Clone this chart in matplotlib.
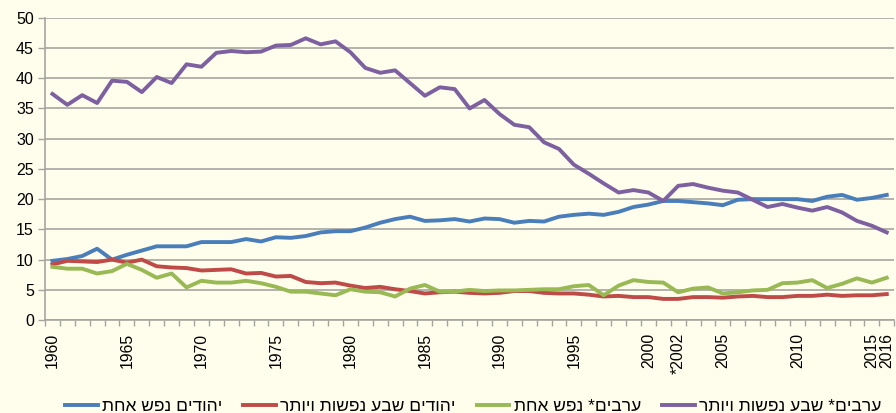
import matplotlib
matplotlib.use("Agg")
import matplotlib.pyplot as plt
from matplotlib.ticker import FixedLocator, NullFormatter

years = list(range(1960, 2017))

jews_single = [
    9.8, 10.1, 10.6, 11.8, 10.0, 10.8, 11.5, 12.2, 12.2, 12.2,
    12.9, 12.9, 12.9, 13.4, 13.0, 13.7, 13.6, 13.9, 14.5, 14.7,
    14.7, 15.3, 16.1, 16.7, 17.1, 16.4, 16.5, 16.7, 16.3, 16.8,
    16.7, 16.1, 16.4, 16.3, 17.1, 17.4, 17.6, 17.4, 17.9, 18.7,
    19.1, 19.7, 19.7, 19.5, 19.3, 19.0, 19.9, 20.0, 20.0, 20.0,
    20.0, 19.7, 20.4, 20.7, 19.9, 20.2, 20.7,
]
jews_seven = [
    9.2, 9.8, 9.7, 9.6, 10.0, 9.5, 10.0, 8.9, 8.7, 8.6,
    8.2, 8.3, 8.4, 7.7, 7.8, 7.2, 7.3, 6.3, 6.1, 6.2,
    5.7, 5.3, 5.5, 5.1, 4.8, 4.4, 4.6, 4.7, 4.5, 4.4,
    4.5, 4.8, 4.8, 4.5, 4.4, 4.4, 4.2, 3.9, 4.0, 3.8,
    3.8, 3.5, 3.5, 3.8, 3.8, 3.7, 3.9, 4.0, 3.8, 3.8,
    4.0, 4.0, 4.2, 4.0, 4.1, 4.1, 4.3,
]
arabs_single = [
    8.8, 8.5, 8.5, 7.7, 8.1, 9.3, 8.3, 7.0, 7.7, 5.4,
    6.5, 6.2, 6.2, 6.5, 6.1, 5.5, 4.7, 4.7, 4.4, 4.1,
    5.1, 4.7, 4.6, 3.9, 5.2, 5.8, 4.7, 4.7, 5.0, 4.8,
    4.9, 4.9, 5.0, 5.1, 5.1, 5.6, 5.8, 4.1, 5.7, 6.6,
    6.3, 6.2, 4.6, 5.2, 5.4, 4.4, 4.6, 4.9, 5.0, 6.1,
    6.2, 6.6, 5.3, 6.0, 6.9, 6.2, 7.0,
]
arabs_seven = [
    37.4, 35.6, 37.2, 35.9, 39.6, 39.4, 37.7, 40.2, 39.2, 42.3,
    41.9, 44.2, 44.5, 44.3, 44.4, 45.4, 45.5, 46.6, 45.6, 46.1,
    44.3, 41.7, 40.9, 41.3, 39.2, 37.1, 38.5, 38.2, 35.0, 36.4,
    34.1, 32.3, 31.9, 29.4, 28.3, 25.7, 24.2, 22.6, 21.1, 21.5,
    21.1, 19.7, 22.2, 22.5, 21.9, 21.4, 21.1, 19.9, 18.7, 19.2,
    18.6, 18.1, 18.7, 17.8, 16.4, 15.6, 14.5,
]

label_years = [1960, 1965, 1970, 1975, 1980, 1985, 1990, 1995,
               2000, 2002, 2005, 2010, 2015, 2016]
label_texts = ["1960", "1965", "1970", "1975", "1980", "1985", "1990", "1995",
               "2000", "*2002", "2005", "2010", "2015", "2016"]

series_names = [
    "יהודים נפש אחת",
    "יהודים שבע נפשות ויותר",
    "ערבים* נפש אחת",
    "ערבים* שבע נפשות ויותר",
]
colors = ["#4A7EBB", "#BE4B48", "#98B954", "#7D60A0"]

bg = "#FFFDEB"
grid_c = "#A5A5A0"

fig = plt.figure(figsize=(8.96, 4.13), dpi=100, facecolor=bg)
ax = fig.add_axes([0.0502, 0.225, 0.9478, 0.732], facecolor=bg)

idx = list(range(len(years)))
for vals, name, c in zip([jews_single, jews_seven, arabs_single, arabs_seven],
                         series_names, colors):
    # matplotlib has no bidi support, so feed hebrew in visual order
    ax.plot(idx, vals, color=c, lw=2.8, solid_joinstyle="round",
            label=name[::-1])

ax.set_xlim(-0.5, len(years) - 0.5)
ax.set_ylim(0, 50)
ax.set_yticks(range(0, 51, 5))
ax.yaxis.grid(True, color=grid_c, lw=1.2)
ax.set_axisbelow(True)

ax.set_xticks([years.index(y) for y in label_years])
ax.set_xticklabels(label_texts, rotation=90, family="Liberation Sans",
                   fontsize=11.3)
ax.xaxis.set_minor_locator(FixedLocator([i - 0.5 for i in range(len(years) + 1)]))
ax.xaxis.set_minor_formatter(NullFormatter())
ax.tick_params(axis="x", which="major", length=0, pad=9)
ax.tick_params(axis="x", which="minor", length=4, color=grid_c, width=1)
ax.tick_params(axis="y", length=5, color=grid_c, width=1, labelsize=11.5,
               pad=3)
for lbl in ax.get_yticklabels():
    lbl.set_family("Liberation Sans")

for side in ["top", "right"]:
    ax.spines[side].set_visible(False)
for side in ["left", "bottom"]:
    ax.spines[side].set_color(grid_c)
    ax.spines[side].set_linewidth(1.2)

fig.legend(loc="lower center", bbox_to_anchor=(0.528, -0.04), ncol=4,
           frameon=False, handlelength=1.9, handletextpad=0.25,
           columnspacing=1.2,
           prop={"family": ["Liberation Sans", "DejaVu Sans"],
                 "size": 12.5})

fig.savefig("out.png", dpi=100, facecolor=bg)
